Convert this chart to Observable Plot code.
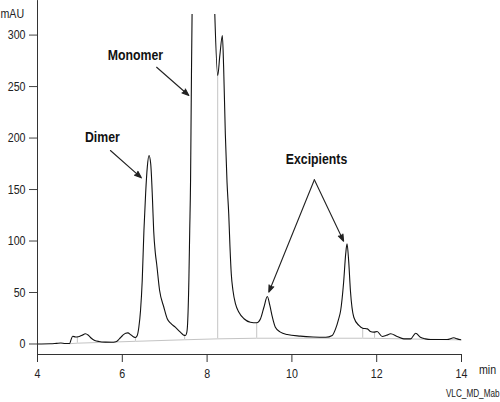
<!DOCTYPE html>
<html><head><meta charset="utf-8">
<script src="https://cdn.jsdelivr.net/npm/d3@7"></script>
<script src="https://cdn.jsdelivr.net/npm/@observablehq/plot@0.6"></script>
<style>body{margin:0;background:#fff;}</style>
</head><body><div id="chart"></div>
<script>
// Chromatogram trace (time in min, absorbance in mAU); the monomer apex is off-scale
const timeMin = [4.00,4.30,4.45,4.55,4.65,4.76,4.79,4.83,4.90,4.96,5.05,5.13,5.20,5.27,5.35,5.45,5.60,5.75,5.85,5.93,6.00,6.08,6.13,6.20,6.27,6.31,6.35,6.39,6.43,6.47,6.51,6.55,6.59,6.63,6.67,6.71,6.74,6.78,6.81,6.88,6.98,7.06,7.14,7.25,7.37,7.44,7.49,7.52,7.54,7.57,7.59,7.61,7.62,7.67,7.90,8.15,8.25,8.30,8.36,8.39,8.43,8.47,8.51,8.54,8.57,8.61,8.67,8.75,8.87,9.02,9.17,9.26,9.34,9.42,9.48,9.54,9.61,9.73,9.89,10.2,10.5,10.8,10.95,11.03,11.10,11.15,11.22,11.27,11.30,11.34,11.38,11.46,11.58,11.67,11.78,11.85,11.93,12.01,12.13,12.23,12.33,12.48,12.64,12.80,12.92,13.03,13.15,13.27,13.66,13.82,13.90,14.0];
const absorbance = [0,0.2,0.6,0.9,0.5,0.5,4,7.5,6.8,7,8.5,9.9,8.5,5.6,3.5,2.4,1.8,1.7,2.2,5,8,10.5,10.8,9,6.8,6.3,8,16.3,32.5,61.7,110,146,172,183,175,142.6,110,88,77.9,52,35.7,24.5,20.2,16.3,11.5,8.8,8.3,11,19.6,61.7,110,159,207,420,700,360,260.6,280,299.5,268.8,204,157,126.4,94,68.2,52,39,30.9,24.5,21.2,20.6,24.5,35.7,46.1,37.4,26,16.3,11.5,9.2,7.6,6.8,6.5,8.3,14.7,24,32.5,60,88,97.3,80,52,26,18,15.3,14.7,12.1,11.5,12.1,7.3,8.5,9.9,7.3,5,5,10.5,6.6,5,4.4,4.4,6,5,4];

// Integration baseline
const baselineTime = [4.76,4.94,6.31,7.47,8.25,9.17,11.67,11.95,14.0];
const baselineValue = [0.3,0.8,2.6,4.1,5.0,5.6,5.6,5.5,4.0];

// Peak drop lines
const dropTime = [4.94,6.31,7.47,8.25,9.17,11.67,11.95];
const dropLow = [0.8,2.6,4.1,5.0,5.6,5.6,5.5];
const dropHigh = [6.9,6.3,8.6,260.6,20.6,15.3,11.8];

const xTicks = [4,6,8,10,12,14];
const yTicks = [0,50,100,150,200,250,300];

// Annotations
const labelNames = ["Dimer","Monomer","Excipients"];
const labelTime = [5.53,6.31,10.58];
const labelValue = [201,280,179];
const arrowFromTime = [5.72,6.81,10.53,10.53];
const arrowFromValue = [187.9,268.8,159.5,159.5];
const arrowToTime = [6.45,7.57,9.455,11.22];
const arrowToValue = [161.4,241.3,50.3,99.8];

const yAxisValue = -10.2, yClip = 320, yAxisTop = 333.5;

const trace = timeMin.map((t,i)=>({t, v: absorbance[i]}));
const base = baselineTime.map((t,i)=>({t, v: baselineValue[i]}));
const drops = dropTime.map((t,i)=>({t, lo: dropLow[i], hi: dropHigh[i]}));
const labels = labelNames.map((n,i)=>({n, t: labelTime[i], v: labelValue[i]}));
const arrows = arrowFromTime.map((t,i)=>({t1: t, v1: arrowFromValue[i], t2: arrowToTime[i], v2: arrowToValue[i]}));

const font = "'Liberation Sans','Arial',sans-serif";

const chart = Plot.plot({
  width: 500, height: 402,
  marginLeft: 37, marginRight: 39, marginTop: 14, marginBottom: 48,
  style: {fontFamily: font, fontSize: "13px", color: "#222", background: "#fff", overflow: "visible"},
  x: {domain: [4,14], label: null},
  y: {domain: [yAxisValue, yClip], label: null},
  marks: [
    Plot.line(base, {x: "t", y: "v", stroke: "#c4c4c4", strokeWidth: 1}),
    Plot.ruleX(drops, {x: "t", y1: "lo", y2: "hi", stroke: "#c4c4c4", strokeWidth: 1}),
    Plot.line(trace, {x: "t", y: "v", stroke: "#111", strokeWidth: 1.1, curve: "monotone-x", clip: true}),
    Plot.ruleX([4], {y1: () => yAxisValue, y2: () => yAxisTop, stroke: "#333", strokeWidth: 1}),
    Plot.ruleY([yAxisValue], {x1: () => 4, x2: () => 14, stroke: "#333", strokeWidth: 1}),
    Plot.axisX({ticks: xTicks, tickSize: 8, tickPadding: 6, stroke: "#333", label: null}),
    Plot.axisY({ticks: yTicks, tickSize: 8, tickPadding: 4, stroke: "#444", label: null}),
    Plot.text(labels, {x: "t", y: "v", text: "n", fontWeight: "bold", fontSize: 15, fill: "#111"}),
    Plot.arrow(arrows, {x1: "t1", y1: "v1", x2: "t2", y2: "v2", stroke: "#222", fill: "#222", strokeWidth: 1.1, headLength: 10, headAngle: 40}),
    Plot.text(["mAU"], {frameAnchor: "top-left", dx: -37, dy: -6, textAnchor: "start", fontSize: 13}),
    Plot.text(["min"], {frameAnchor: "bottom-right", dx: 17.5, dy: 19.5, textAnchor: "start", fontSize: 13}),
    Plot.text(["VLC_MD_Mab"], {frameAnchor: "bottom-right", dx: 38, dy: 42, textAnchor: "end", fontSize: 10})
  ]
});
document.getElementById("chart").appendChild(chart);

// Emulate a condensed typeface: squeeze each text horizontally around its anchor
chart.querySelectorAll("text").forEach(el => {
  const bb = el.getBBox();
  const anchor = getComputedStyle(el).textAnchor;
  const ox = anchor === "end" ? bb.x + bb.width : anchor === "middle" ? bb.x + bb.width / 2 : bb.x;
  const prev = el.getAttribute("transform") || "";
  el.setAttribute("transform", `${prev} translate(${ox},0) scale(0.82,1) translate(${-ox},0)`);
});
</script>
</body></html>
